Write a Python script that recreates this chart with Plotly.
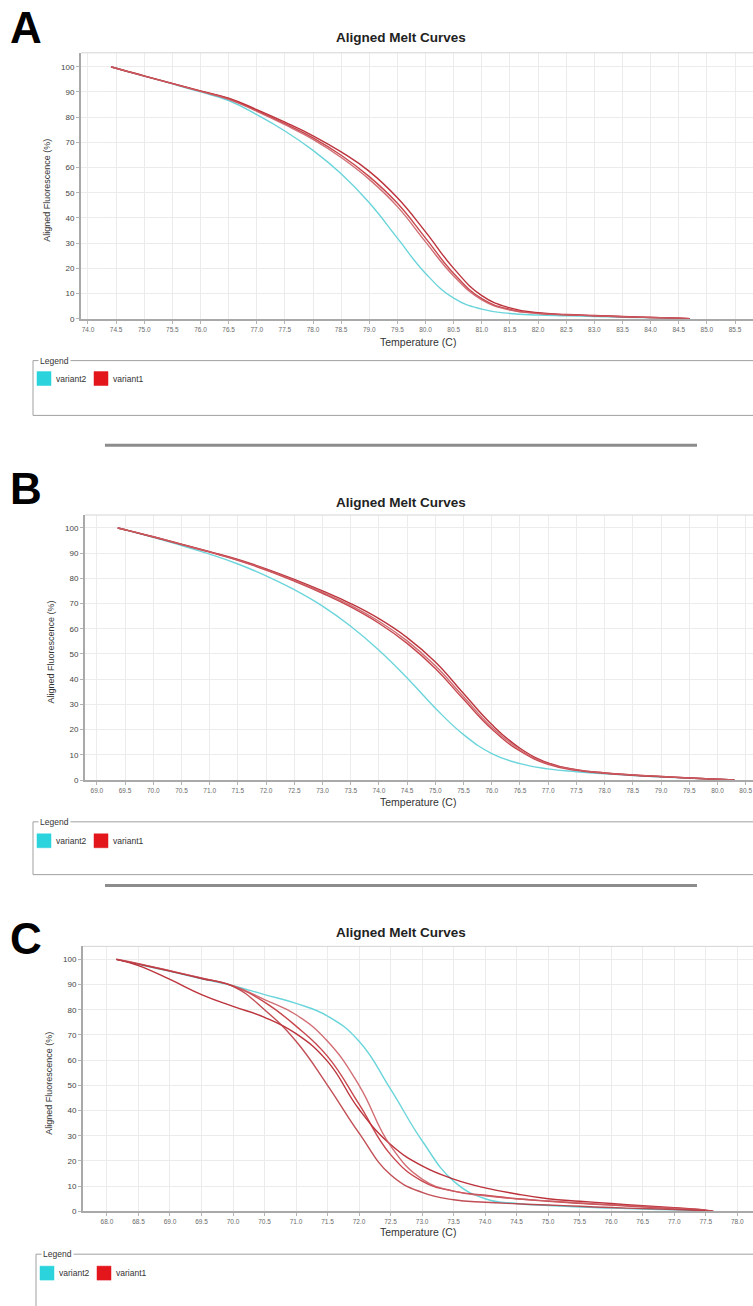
import plotly.graph_objects as go

# ---------------- data ----------------
# Panel A
a_temp = [74.41, 74.5, 75.0, 75.5, 76.0, 76.5, 77.0, 77.5, 78.0, 78.5, 79.0, 79.5,
          80.0, 80.5, 81.0, 81.5, 82.0, 82.5, 83.0, 83.5, 84.0, 84.5, 84.7]
a_variant2 = [100, 99.4, 96.3, 93.2, 90.0, 86.6, 81.0, 74.5, 66.8, 57.5, 46.0, 32.0,
              18.0, 8.2, 3.8, 2.1, 1.5, 1.2, 0.9, 0.6, 0.35, 0.15, 0.0]
a_variant1_1 = [100, 99.4, 96.3, 93.3, 90.2, 87.1, 82.3, 77.0, 71.2, 64.0, 55.3, 44.5,
                30.5, 17.0, 7.5, 3.5, 2.1, 1.6, 1.2, 0.8, 0.5, 0.2, 0.0]
a_variant1_2 = [100, 99.4, 96.3, 93.3, 90.3, 87.3, 82.6, 77.4, 71.8, 64.9, 56.4, 45.8,
                32.0, 18.0, 8.0, 3.7, 2.2, 1.6, 1.2, 0.8, 0.5, 0.2, 0.0]
a_variant1_3 = [100, 99.4, 96.4, 93.4, 90.4, 87.5, 83.0, 78.0, 72.6, 66.2, 58.5, 48.0,
                34.5, 20.0, 9.2, 4.3, 2.4, 1.7, 1.3, 0.9, 0.5, 0.2, 0.0]

# Panel B
b_temp = [69.37, 69.5, 70.0, 70.5, 71.0, 71.5, 72.0, 72.5, 73.0, 73.5, 74.0, 74.5,
          75.0, 75.5, 76.0, 76.5, 77.0, 77.5, 78.0, 78.5, 79.0, 79.5, 80.0, 80.3]
b_variant2 = [100, 99.3, 96.3, 93.0, 89.6, 85.7, 81.0, 75.5, 69.0, 61.0, 51.5, 40.5,
              28.5, 18.0, 10.5, 6.5, 4.4, 3.3, 2.5, 1.8, 1.2, 0.7, 0.3, 0.0]
b_variant1_1 = [100, 99.3, 96.5, 93.5, 90.5, 87.3, 83.5, 79.2, 74.5, 69.3, 63.0, 55.2,
                45.3, 33.0, 21.0, 12.0, 6.5, 4.0, 2.8, 2.0, 1.4, 0.8, 0.3, 0.0]
b_variant1_2 = [100, 99.3, 96.5, 93.6, 90.6, 87.5, 83.8, 79.6, 75.0, 70.0, 64.0, 56.5,
                46.8, 34.3, 22.0, 12.6, 6.8, 4.1, 2.8, 2.0, 1.4, 0.8, 0.3, 0.0]
b_variant1_3 = [100, 99.3, 96.4, 93.4, 90.4, 87.2, 83.3, 78.9, 74.1, 68.7, 62.2, 54.2,
                44.2, 32.0, 20.2, 11.5, 6.2, 3.8, 2.7, 1.9, 1.3, 0.8, 0.3, 0.0]

# Panel C
c_temp = [68.15, 68.5, 69.0, 69.5, 70.0, 70.5, 71.0, 71.5, 72.0, 72.5, 73.0, 73.5,
          74.0, 74.5, 75.0, 75.5, 76.0, 76.5, 77.0, 77.5, 77.62]
c_variant2 = [100, 98.0, 95.2, 92.3, 89.5, 86.0, 82.5, 77.5, 67.5, 48.5, 28.0, 12.0,
              5.0, 3.1, 2.3, 1.7, 1.3, 0.9, 0.6, 0.2, 0.0]
c_variant1_1 = [100, 97.5, 92.0, 86.0, 81.3, 77.0, 70.5, 59.5, 40.5, 26.5, 18.0, 12.8,
                9.3, 6.9, 5.0, 4.0, 3.1, 2.2, 1.4, 0.5, 0.0]
c_variant1_2 = [100, 98.1, 95.3, 92.4, 89.3, 80.0, 67.5, 50.0, 31.0, 14.5, 7.5, 4.6,
                3.6, 3.0, 2.5, 2.0, 1.5, 1.1, 0.7, 0.2, 0.0]
c_variant1_3 = [100, 98.2, 95.4, 92.5, 89.4, 83.0, 73.5, 61.5, 42.5, 22.5, 12.0, 8.0,
                6.4, 5.0, 4.0, 3.2, 2.5, 1.8, 1.1, 0.4, 0.0]
c_variant1_4 = [100, 98.3, 95.5, 92.6, 89.5, 84.0, 78.0, 67.5, 50.0, 26.0, 12.8, 8.0,
                6.2, 5.0, 4.1, 3.3, 2.6, 1.9, 1.2, 0.4, 0.0]

panel_letters = ["A", "B", "C"]
chart_title = "Aligned Melt Curves"
x_title = "Temperature (C)"
y_title = "Aligned Fluorescence (%)"
legend_names = ["variant2", "variant1"]

# ---------------- styling ----------------
W, H = 753, 1306
FONT = "Liberation Sans, Arial, sans-serif"
CYAN = "#6cd5db"
SWATCH_CYAN = "#2bd3dc"
SWATCH_RED = "#e3161c"
REDS = ["#b51f28", "#c2343b", "#cd5e65", "#bb3b42"]
SMOOTH = 1.3


def px(x):
    return x / W


def py(y):
    return 1 - y / H


fig = go.Figure()

panels = [
    dict(temp=a_temp, cyan=a_variant2, reds=[a_variant1_3, a_variant1_2, a_variant1_1],
         left=81, top=53, bottom=320, xr=[73.876, 85.82], letter_y=28, title_y=38,
         xt_y=343, leg_top=362, leg_bot=417, sw_y=380, leg_left=33),
    dict(temp=b_temp, cyan=b_variant2, reds=[b_variant1_2, b_variant1_3, b_variant1_1],
         left=85, top=517, bottom=783, xr=[68.79, 80.63], letter_y=490, title_y=504,
         xt_y=805, leg_top=825, leg_bot=878, sw_y=844, leg_left=33),
    dict(temp=c_temp, cyan=c_variant2, reds=[c_variant1_1, c_variant1_3, c_variant1_4, c_variant1_2],
         left=83, top=950, bottom=1216, xr=[67.62, 78.25], letter_y=942, title_y=936,
         xt_y=1237, leg_top=1259, leg_bot=1330, sw_y=1278, leg_left=36),
]

annotations = []
shapes = []

for i, p in enumerate(panels):
    n = "" if i == 0 else str(i + 1)
    xa, ya = "x" + n, "y" + n
    ymax = (p["bottom"] - p["top"]) / 2.53

    fig.add_trace(go.Scatter(x=p["temp"], y=p["cyan"], mode="lines",
                             line=dict(color=CYAN, width=1.4, shape="spline", smoothing=SMOOTH),
                             xaxis=xa, yaxis=ya, showlegend=False, hoverinfo="skip"))
    for k, series in enumerate(p["reds"]):
        fig.add_trace(go.Scatter(x=p["temp"], y=series, mode="lines",
                                 line=dict(color=REDS[k % len(REDS)], width=1.4,
                                           shape="spline", smoothing=SMOOTH),
                                 opacity=0.9, xaxis=xa, yaxis=ya,
                                 showlegend=False, hoverinfo="skip"))

    xkey = "xaxis" + n
    ykey = "yaxis" + n
    fig.update_layout(**{
        xkey: dict(domain=[px(p["left"]), 1.0], range=p["xr"], anchor=ya,
                   dtick=0.5, tick0=0, tickformat=".1f",
                   tickfont=dict(size=6.5, color="#6a6a6a", family=FONT),
                   ticks="outside", ticklen=3, tickcolor="#b5b5b5",
                   showgrid=True, gridcolor="#ececec", gridwidth=1,
                   showline=True, linecolor="#a9a9a9", linewidth=2,
                   zeroline=False, fixedrange=True),
        ykey: dict(domain=[py(p["bottom"]), py(p["top"])], range=[0, ymax], anchor=xa,
                   dtick=10, tick0=0,
                   tickfont=dict(size=8, color="#444444", family=FONT),
                   ticks="outside", ticklen=3, tickcolor="#b5b5b5",
                   showgrid=True, gridcolor="#ececec", gridwidth=1,
                   showline=True, linecolor="#a9a9a9", linewidth=2,
                   zeroline=False, fixedrange=True),
    })

    # top frame line of the plot area
    shapes.append(dict(type="line", xref="paper", yref="paper",
                       x0=px(p["left"]), x1=1.0, y0=py(p["top"]), y1=py(p["top"]),
                       line=dict(color="#d4d4d4", width=1)))

    # panel letter
    annotations.append(dict(text="<b>%s</b>" % panel_letters[i], xref="paper", yref="paper",
                            x=px(8), y=py(p["letter_y"]), xanchor="left", yanchor="middle",
                            showarrow=False, font=dict(size=44, color="#000000", family=FONT)))
    # chart title
    annotations.append(dict(text="<b>%s</b>" % chart_title, xref="paper", yref="paper",
                            x=px(401), y=py(p["title_y"]), xanchor="center", yanchor="middle",
                            showarrow=False, font=dict(size=13.5, color="#222222", family=FONT)))
    # axis titles
    annotations.append(dict(text=x_title, xref="paper", yref="paper",
                            x=px(418), y=py(p["xt_y"]), xanchor="center", yanchor="middle",
                            showarrow=False, font=dict(size=10.5, color="#333333", family=FONT)))
    annotations.append(dict(text=y_title, xref="paper", yref="paper", textangle=-90,
                            x=px(p["left"] - 34), y=py((p["top"] + p["bottom"]) / 2 + 5),
                            xanchor="center", yanchor="middle",
                            showarrow=False, font=dict(size=9, color="#333333", family=FONT)))

    # legend box
    ll = p["leg_left"]
    shapes.append(dict(type="rect", xref="paper", yref="paper",
                       x0=px(ll), x1=px(W + 10), y0=py(p["leg_bot"]), y1=py(p["leg_top"]),
                       line=dict(color="#a0a0a0", width=1), fillcolor="rgba(0,0,0,0)"))
    annotations.append(dict(text="Legend", xref="paper", yref="paper",
                            x=px(ll + 5), y=py(p["leg_top"]), xanchor="left", yanchor="middle",
                            showarrow=False, bgcolor="#ffffff", borderpad=1,
                            font=dict(size=8.5, color="#333333", family=FONT)))
    sy = p["sw_y"]
    swatches = [(ll + 4, SWATCH_CYAN), (ll + 61, SWATCH_RED)]
    for (sx, col), name in zip(swatches, legend_names):
        shapes.append(dict(type="rect", xref="paper", yref="paper",
                           x0=px(sx), x1=px(sx + 14), y0=py(sy + 7), y1=py(sy - 7),
                           line=dict(color=col, width=0.5), fillcolor=col))
        annotations.append(dict(text=name, xref="paper", yref="paper",
                                x=px(sx + 17), y=py(sy), xanchor="left", yanchor="middle",
                                showarrow=False,
                                font=dict(size=8.5, color="#333333", family=FONT)))

# separators between panels
for yy in (447, 889):
    shapes.append(dict(type="line", xref="paper", yref="paper",
                       x0=px(105), x1=px(697), y0=py(yy), y1=py(yy),
                       line=dict(color="#8c8c8c", width=3)))

fig.update_layout(width=W, height=H, margin=dict(l=0, r=0, t=0, b=0),
                  paper_bgcolor="#ffffff", plot_bgcolor="#ffffff",
                  font=dict(family=FONT), showlegend=False,
                  annotations=annotations, shapes=shapes)

fig.write_html("out.html")
